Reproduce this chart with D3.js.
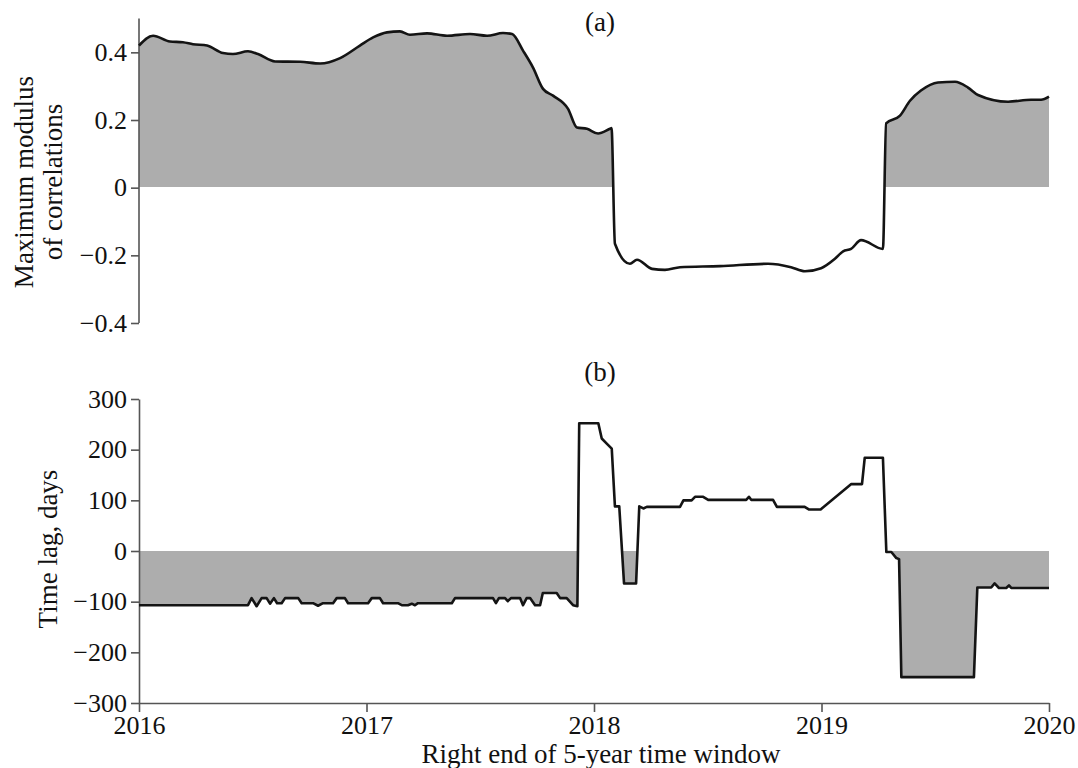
<!DOCTYPE html>
<html>
<head>
<meta charset="utf-8">
<script src="https://cdn.jsdelivr.net/npm/d3@7"></script>
<style>
    body { margin: 0; background: #fff; }
    svg { display: block; }
    text { font-family: "Liberation Serif", "Times New Roman", serif; fill: #111; }
    .axis path, .axis line { stroke: #555; stroke-width: 1.6px; }
    .axis text { font-size: 26px; }
    .title { font-size: 27px; }
    .series { fill: none; stroke: #141414; stroke-width: 2.6px; stroke-linejoin: round; }
    .fill { fill: #adadad; }
</style>
</head>
<body>
<script>
// panel (a): maximum modulus of correlations
const corrYears = [
    2016.000, 2016.062, 2016.136, 2016.193, 2016.237, 2016.299, 2016.369, 2016.413, 2016.479, 2016.523,
    2016.598, 2016.708, 2016.796, 2016.884, 2016.971, 2017.029, 2017.090, 2017.147, 2017.191, 2017.266,
    2017.354, 2017.455, 2017.530, 2017.600, 2017.640, 2017.688, 2017.732, 2017.776, 2017.820, 2017.886,
    2017.925, 2017.969, 2018.018, 2018.070, 2018.077, 2018.092, 2018.158, 2018.189, 2018.255, 2018.312,
    2018.378, 2018.554, 2018.765, 2018.866, 2018.927, 2018.998, 2019.059, 2019.095, 2019.130, 2019.174,
    2019.270, 2019.284, 2019.345, 2019.389, 2019.437, 2019.512, 2019.587, 2019.644, 2019.688, 2019.820,
    2019.921, 2019.965, 2020.000
];
const corrValues = [
    0.420, 0.449, 0.432, 0.430, 0.424, 0.420, 0.398, 0.395, 0.403, 0.395,
    0.373, 0.372, 0.367, 0.383, 0.420, 0.444, 0.459, 0.462, 0.452, 0.456,
    0.449, 0.454, 0.449, 0.457, 0.454, 0.405, 0.355, 0.292, 0.272, 0.233,
    0.178, 0.174, 0.160, 0.174, 0.176, -0.166, -0.225, -0.213, -0.240, -0.243,
    -0.235, -0.232, -0.225, -0.235, -0.247, -0.238, -0.210, -0.188, -0.181, -0.155,
    -0.181, 0.190, 0.213, 0.257, 0.287, 0.311, 0.313, 0.296, 0.274, 0.254,
    0.260, 0.260, 0.269
];

// panel (b): time lag, days
const lagYears = [
    2016.000, 2016.479, 2016.495, 2016.517, 2016.539, 2016.561, 2016.576, 2016.593, 2016.607, 2016.627,
    2016.642, 2016.700, 2016.715, 2016.765, 2016.787, 2016.809, 2016.853, 2016.869, 2016.905, 2016.919,
    2017.007, 2017.023, 2017.059, 2017.073, 2017.138, 2017.155, 2017.182, 2017.199, 2017.213, 2017.226,
    2017.375, 2017.389, 2017.556, 2017.569, 2017.582, 2017.609, 2017.621, 2017.635, 2017.675, 2017.688,
    2017.704, 2017.719, 2017.741, 2017.763, 2017.775, 2017.836, 2017.851, 2017.880, 2017.908, 2017.927,
    2017.935, 2018.019, 2018.034, 2018.056, 2018.078, 2018.092, 2018.111, 2018.132, 2018.185, 2018.199,
    2018.217, 2018.232, 2018.378, 2018.393, 2018.429, 2018.444, 2018.480, 2018.502, 2018.669, 2018.681,
    2018.691, 2018.787, 2018.804, 2018.926, 2018.944, 2018.996, 2019.131, 2019.178, 2019.190, 2019.270,
    2019.285, 2019.307, 2019.329, 2019.341, 2019.351, 2019.670, 2019.685, 2019.746, 2019.761, 2019.780,
    2019.812, 2019.824, 2019.834, 2020.000
];
const lagValues = [
    -107, -107, -93, -109, -93, -93, -104, -93, -103, -103,
    -93, -93, -103, -103, -108, -103, -103, -93, -93, -103,
    -103, -93, -93, -103, -103, -107, -107, -104, -107, -103,
    -103, -93, -93, -103, -93, -93, -99, -93, -93, -107,
    -93, -93, -107, -107, -83, -83, -93, -93, -107, -109,
    252, 252, 222, 212, 202, 88, 88, -64, -64, 88,
    84, 87, 87, 100, 100, 107, 107, 101, 101, 107,
    101, 101, 87, 87, 82, 82, 132, 132, 184, 184,
    -2, -2, -14, -16, -249, -249, -72, -72, -64, -73,
    -73, -68, -73, -73
];

const yearTicks = [2016, 2017, 2018, 2019, 2020];
const corrTicks = [-0.4, -0.2, 0, 0.2, 0.4];
const lagTicks = [-300, -200, -100, 0, 100, 200, 300];

const width = 1078;
const height = 768;
const left = 139;
const right = 1049;

const x = d3.scaleLinear().domain([2016, 2020]).range([left, right]);
const yCorr = d3.scaleLinear().domain([-0.4, 0.5]).range([323, 18.5]);
const yLag = d3.scaleLinear().domain([-300, 300]).range([703, 399]);

const svg = d3.select("body").append("svg")
    .attr("width", width)
    .attr("height", height);

// keep the fill on one side of zero only
const defs = svg.append("defs");
defs.append("clipPath").attr("id", "clipTop")
    .append("rect")
    .attr("x", left).attr("y", 0)
    .attr("width", right - left).attr("height", Math.floor(yCorr(0)));
defs.append("clipPath").attr("id", "clipBottom")
    .append("rect")
    .attr("x", left).attr("y", Math.ceil(yLag(0)))
    .attr("width", right - left).attr("height", height - Math.ceil(yLag(0)));

function drawPanel(years, values, y, clipId, curve) {
    const pts = years.map((t, i) => [t, values[i]]);
    const area = d3.area()
        .curve(curve)
        .x(d => x(d[0]))
        .y0(y(0))
        .y1(d => y(d[1]));
    const line = d3.line()
        .curve(curve)
        .x(d => x(d[0]))
        .y(d => y(d[1]));

    svg.append("path")
        .attr("class", "fill")
        .attr("clip-path", "url(#" + clipId + ")")
        .attr("d", area(pts));

    return function () {
        svg.append("path")
            .attr("class", "series")
            .attr("d", line(pts));
    };
}

const drawCorrLine = drawPanel(corrYears, corrValues, yCorr, "clipTop", d3.curveMonotoneX);
const drawLagLine = drawPanel(lagYears, lagValues, yLag, "clipBottom", d3.curveLinear);

// axes
const corrAxis = svg.append("g")
    .attr("class", "axis")
    .attr("transform", "translate(" + left + ",0)")
    .call(d3.axisLeft(yCorr)
        .tickValues(corrTicks)
        .tickSize(8)
        .tickPadding(4)
        .tickFormat(d => d === 0 ? "0" : d3.format(".1f")(d)));
corrAxis.select(".domain").attr("d", "M0," + yCorr(0.5) + "V" + yCorr(-0.4));

svg.append("g")
    .attr("class", "axis")
    .attr("transform", "translate(" + left + ",0)")
    .call(d3.axisLeft(yLag)
        .tickValues(lagTicks)
        .tickSize(8)
        .tickPadding(4)
        .tickSizeOuter(0)
        .tickFormat(d3.format("d")));

svg.append("g")
    .attr("class", "axis")
    .attr("transform", "translate(0," + yLag(-300) + ")")
    .call(d3.axisBottom(x)
        .tickValues(yearTicks)
        .tickSize(9)
        .tickPadding(4)
        .tickSizeOuter(0)
        .tickFormat(d3.format("d")));

svg.selectAll(".axis text").attr("fill", "#111");

drawCorrLine();
drawLagLine();

// labels
svg.append("text").attr("class", "title")
    .attr("x", 600).attr("y", 31)
    .attr("text-anchor", "middle")
    .text("(a)");
svg.append("text").attr("class", "title")
    .attr("x", 600).attr("y", 381)
    .attr("text-anchor", "middle")
    .text("(b)");

svg.append("text").attr("class", "title")
    .attr("transform", "translate(33,182) rotate(-90)")
    .attr("text-anchor", "middle")
    .text("Maximum modulus");
svg.append("text").attr("class", "title")
    .attr("transform", "translate(62,182) rotate(-90)")
    .attr("text-anchor", "middle")
    .text("of correlations");
svg.append("text").attr("class", "title")
    .attr("transform", "translate(57,549) rotate(-90)")
    .attr("text-anchor", "middle")
    .text("Time lag, days");

svg.append("text").attr("class", "title")
    .attr("x", 601).attr("y", 763)
    .attr("text-anchor", "middle")
    .text("Right end of 5-year time window");
</script>
</body>
</html>
